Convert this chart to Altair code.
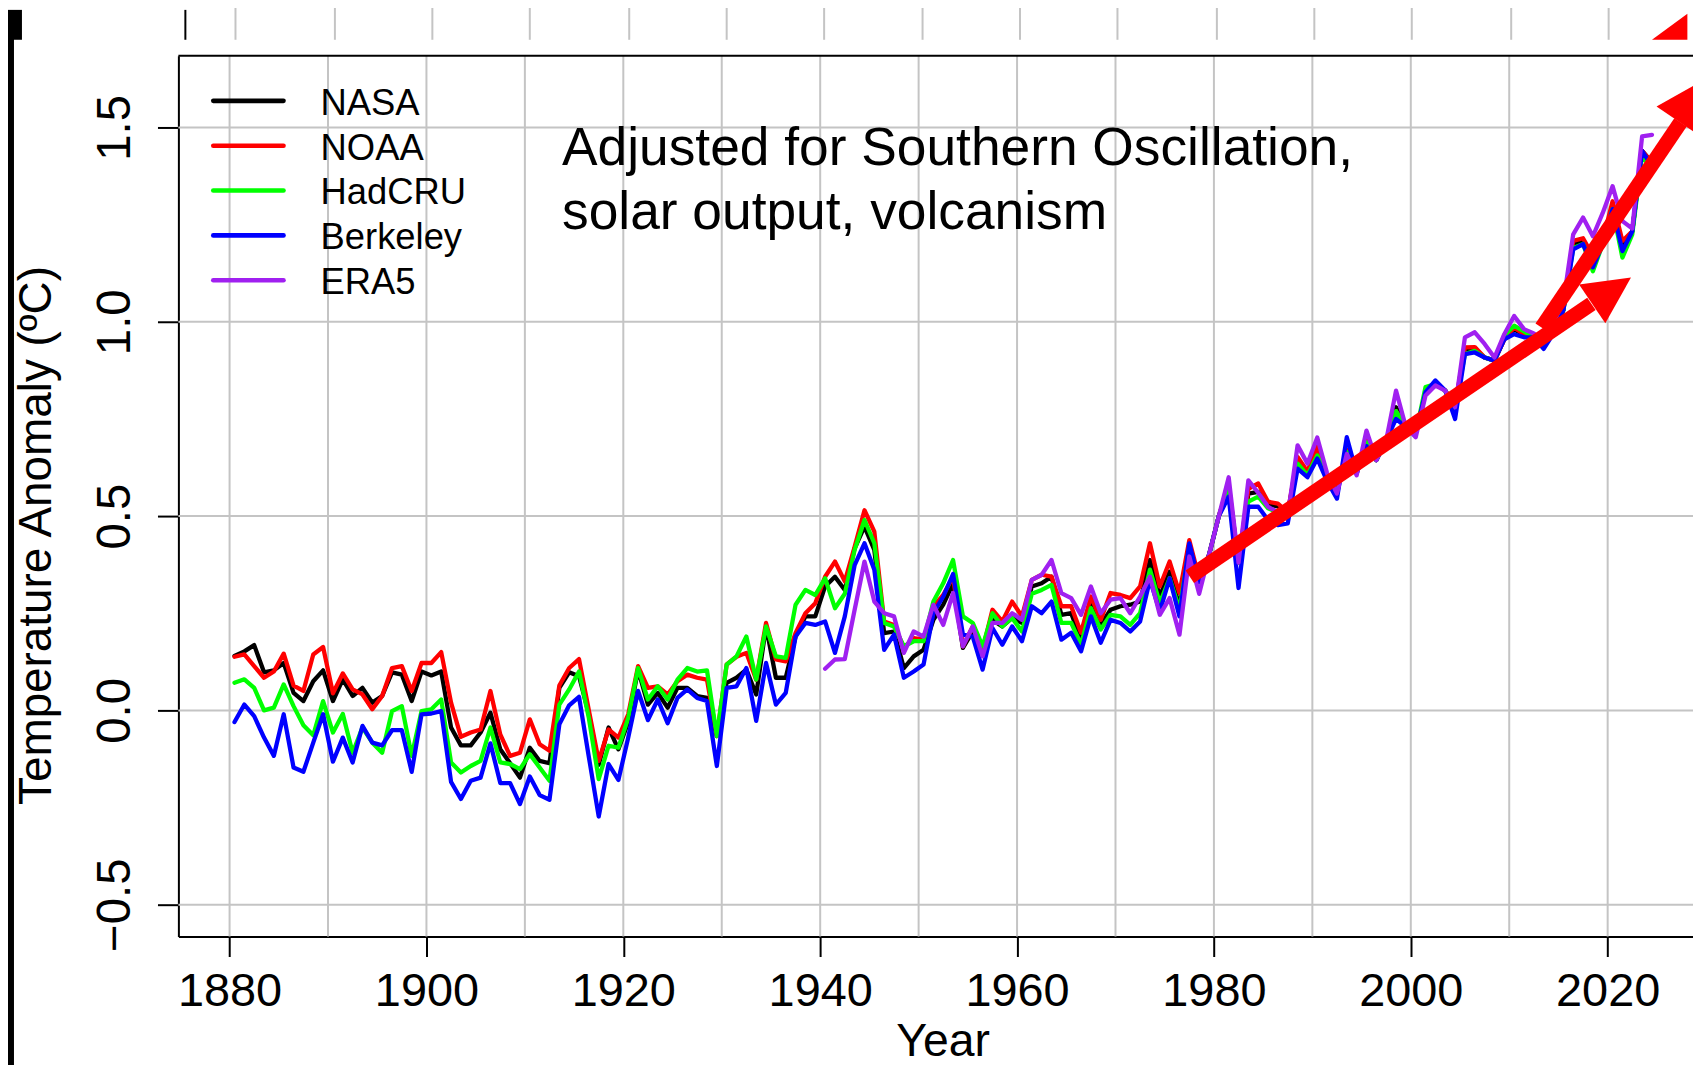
import altair as alt
import pandas as pd

FONT = "Liberation Sans"

# ---------------- data ----------------
years = list(range(1880, 2025))
nasa = [
    0.14, 0.152, 0.168, 0.098, 0.103, 0.122, 0.045, 0.024, 0.075, 0.103,
    0.024, 0.08, 0.037, 0.058, 0.02, 0.037, 0.098, 0.092, 0.024, 0.10,
    0.09, 0.10, -0.044, -0.09, -0.09, -0.057, -0.006, -0.10, -0.136, -0.173,
    -0.096, -0.13, -0.136, 0.058, 0.098, 0.088, -0.01, -0.14, -0.044, -0.10,
    -0.03, 0.105, 0.015, 0.045, 0.007, 0.058, 0.058, 0.037, 0.032, -0.066,
    0.071, 0.084, 0.105, 0.041, 0.216, 0.084, 0.084, 0.19, 0.242, 0.242,
    0.319, 0.344, 0.31, 0.417, 0.473, 0.413, 0.199, 0.203, 0.109, 0.139,
    0.156, 0.233, 0.272, 0.327, 0.161, 0.203, 0.144, 0.233, 0.216, 0.238,
    0.225, 0.319, 0.327, 0.344, 0.246, 0.25, 0.182, 0.285, 0.22, 0.259,
    0.268, 0.272, 0.28, 0.387, 0.293, 0.357, 0.268, 0.413, 0.33, 0.40,
    0.50, 0.575, 0.38, 0.558, 0.562, 0.53, 0.525, 0.507, 0.648, 0.61,
    0.665, 0.60, 0.562, 0.67, 0.615, 0.695, 0.644, 0.695, 0.78, 0.729,
    0.712, 0.819, 0.84, 0.823, 0.78, 0.93, 0.93, 0.908, 0.90, 0.955,
    0.98, 0.968, 0.96, 0.94, 0.97, 1.03, 1.20, 1.21, 1.15, 1.20,
    1.30, 1.19, 1.233, 1.44, 1.41,
]
noaa = [
    0.138, 0.144, 0.114, 0.084, 0.10, 0.146, 0.064, 0.05, 0.144, 0.163,
    0.044, 0.095, 0.054, 0.041, 0.003, 0.037, 0.109, 0.114, 0.05, 0.122,
    0.122, 0.15, 0.02, -0.068, -0.057, -0.049, 0.05, -0.062, -0.117, -0.109,
    -0.023, -0.087, -0.104, 0.064, 0.109, 0.132, 0.0, -0.13, -0.049, -0.07,
    -0.01, 0.114, 0.058, 0.062, 0.041, 0.075, 0.092, 0.084, 0.079, -0.066,
    0.118, 0.138, 0.148, 0.079, 0.225, 0.131, 0.126, 0.199, 0.25, 0.276,
    0.344, 0.383, 0.332, 0.421, 0.515, 0.46, 0.229, 0.22, 0.161, 0.186,
    0.182, 0.267, 0.297, 0.344, 0.165, 0.216, 0.156, 0.259, 0.229, 0.28,
    0.242, 0.336, 0.349, 0.344, 0.268, 0.268, 0.20, 0.293, 0.233, 0.302,
    0.297, 0.289, 0.319, 0.43, 0.319, 0.383, 0.302, 0.438, 0.34, 0.40,
    0.50, 0.58, 0.38, 0.57, 0.584, 0.537, 0.532, 0.51, 0.652, 0.615,
    0.678, 0.60, 0.562, 0.67, 0.61, 0.695, 0.644, 0.695, 0.77, 0.729,
    0.712, 0.819, 0.84, 0.823, 0.785, 0.934, 0.935, 0.908, 0.90, 0.955,
    0.985, 0.968, 0.96, 0.94, 0.975, 1.04, 1.208, 1.215, 1.17, 1.21,
    1.31, 1.208, 1.233, 1.44, 1.41,
]
hadcru = [
    0.071, 0.08, 0.058, 0.0, 0.007, 0.067, 0.011, -0.038, -0.064, 0.024,
    -0.057, -0.009, -0.109, -0.044, -0.083, -0.109, -0.002, 0.011, -0.117, -0.002,
    0.003, 0.028, -0.134, -0.16, -0.143, -0.13, -0.044, -0.134, -0.138, -0.151,
    -0.113, -0.147, -0.181, 0.015, 0.054, 0.10, -0.02, -0.177, -0.091, -0.096,
    -0.02, 0.109, 0.028, 0.062, 0.028, 0.079, 0.109, 0.10, 0.103, -0.066,
    0.118, 0.139, 0.19, 0.079, 0.216, 0.139, 0.135, 0.272, 0.31, 0.297,
    0.34, 0.263, 0.30, 0.413, 0.49, 0.43, 0.225, 0.216, 0.165, 0.178,
    0.178, 0.28, 0.327, 0.387, 0.242, 0.225, 0.165, 0.25, 0.216, 0.238,
    0.203, 0.30, 0.31, 0.323, 0.225, 0.225, 0.17, 0.263, 0.208, 0.246,
    0.242, 0.22, 0.25, 0.362, 0.276, 0.34, 0.259, 0.42, 0.33, 0.40,
    0.50, 0.565, 0.38, 0.537, 0.55, 0.52, 0.51, 0.50, 0.635, 0.605,
    0.656, 0.60, 0.56, 0.665, 0.61, 0.69, 0.644, 0.695, 0.77, 0.729,
    0.712, 0.832, 0.84, 0.823, 0.78, 0.917, 0.925, 0.908, 0.90, 0.965,
    0.99, 0.975, 0.96, 0.94, 0.97, 1.03, 1.19, 1.20, 1.13, 1.20,
    1.29, 1.165, 1.225, 1.43, 1.387,
]
berkeley = [
    -0.03, 0.015, -0.015, -0.07, -0.117, -0.01, -0.147, -0.158, -0.083, -0.01,
    -0.132, -0.07, -0.134, -0.04, -0.083, -0.09, -0.051, -0.051, -0.158, -0.01,
    -0.008, -0.002, -0.184, -0.228, -0.181, -0.173, -0.085, -0.187, -0.187, -0.241,
    -0.17, -0.218, -0.23, -0.036, 0.013, 0.035, -0.12, -0.273, -0.138, -0.179,
    -0.07, 0.05, -0.025, 0.028, -0.033, 0.032, 0.054, 0.032, 0.024, -0.143,
    0.058, 0.062, 0.109, -0.027, 0.122, 0.015, 0.045, 0.19, 0.225, 0.22,
    0.229, 0.148, 0.242, 0.374, 0.43, 0.362, 0.156, 0.195, 0.084, 0.10,
    0.118, 0.25, 0.293, 0.351, 0.195, 0.19, 0.105, 0.212, 0.169, 0.216,
    0.178, 0.268, 0.25, 0.28, 0.182, 0.20, 0.152, 0.242, 0.174, 0.233,
    0.225, 0.203, 0.229, 0.336, 0.255, 0.34, 0.242, 0.43, 0.33, 0.40,
    0.50, 0.55, 0.315, 0.524, 0.524, 0.49, 0.477, 0.481, 0.622, 0.60,
    0.648, 0.59, 0.545, 0.703, 0.61, 0.68, 0.644, 0.695, 0.75, 0.729,
    0.712, 0.819, 0.849, 0.823, 0.75, 0.917, 0.921, 0.908, 0.90, 0.955,
    0.968, 0.96, 0.96, 0.93, 0.97, 1.03, 1.186, 1.20, 1.14, 1.20,
    1.29, 1.182, 1.233, 1.44, 1.40,
]
era5_years = list(range(1940, 2025))
era5 = [
    0.107, 0.131, 0.132, 0.259, 0.383, 0.28, 0.25, 0.242, 0.148, 0.203,
    0.19, 0.272, 0.22, 0.302, 0.165, 0.216, 0.139, 0.225, 0.225, 0.25,
    0.233, 0.336, 0.349, 0.387, 0.302, 0.289, 0.246, 0.319, 0.25, 0.285,
    0.289, 0.25, 0.293, 0.344, 0.246, 0.289, 0.195, 0.396, 0.30, 0.40,
    0.50, 0.60, 0.38, 0.592, 0.56, 0.524, 0.51, 0.50, 0.682, 0.635,
    0.702, 0.61, 0.558, 0.66, 0.605, 0.72, 0.644, 0.695, 0.823, 0.729,
    0.703, 0.81, 0.836, 0.823, 0.78, 0.96, 0.973, 0.943, 0.908, 0.968,
    1.015, 0.981, 0.97, 0.95, 1.0, 1.05, 1.225, 1.268, 1.22, 1.28,
    1.349, 1.259, 1.24, 1.477, 1.481,
]

series_names = ["NASA", "NOAA", "HadCRU", "Berkeley", "ERA5"]
series_colors = ["#000000", "#ff0000", "#00ff00", "#0000ff", "#a020f0"]
series_years = [years, years, years, years, era5_years]
series_values = [nasa, noaa, hadcru, berkeley, era5]

x_tick_years = [1880, 1900, 1920, 1940, 1960, 1980, 2000, 2020]
y_tick_values = [-0.5, 0.0, 0.5, 1.0, 1.5]
grid_years = [1880, 1890, 1900, 1910, 1920, 1930, 1940, 1950, 1960, 1970,
              1980, 1990, 2000, 2010, 2020]
grid_values = [-0.5, 0.0, 0.5, 1.0, 1.5]

# strip of a second copy of the chart showing above the main one
top_strip_grid_years = [1880.6, 1890.7, 1900.6, 1910.5, 1920.6, 1930.5, 1940.4,
                        1950.4, 1960.3, 1970.2, 1980.3, 1990.2, 2000.1, 2010.2, 2020.1]
top_strip_top = 1.83
top_strip_bottom = 1.7256

# red trend arrows (drawn in data coordinates)
lower_arrow_year = [1977.55, 2018.35]
lower_arrow_temp = [0.344, 1.046]
lower_head_year = [2020.4]
lower_head_temp = [1.08]
upper_arrow_year = [2013.3, 2027.4]
upper_arrow_temp = [0.985, 1.513]
upper_head_year = [2028.9]
upper_head_temp = [1.573]
top_tip_year = [2024.5, 2028.1]
top_tip_upper = [1.7256, 1.7923]
top_tip_lower = [1.7256, 1.7256]

annotation_lines = ["Adjusted for Southern Oscillation,", "solar output, volcanism"]

# ---------------- scales & axes ----------------
X_SCALE = alt.Scale(domain=[1874.8, 2028.67], nice=False, zero=False)
Y_SCALE = alt.Scale(domain=[-0.582, 1.6846], nice=False, zero=False)

X_AXIS = alt.Axis(
    values=x_tick_years, format="d", grid=False, title="Year",
    domainColor="black", domainWidth=2, tickColor="black", tickWidth=2, tickSize=20,
    labelFont=FONT, labelFontSize=47, labelColor="black", labelPadding=49,
    labelBaseline="alphabetic", labelFlush=False, labelOverlap=False,
    titleFont=FONT, titleFontSize=46.5, titleFontWeight="normal", titleColor="black",
    titleX=767, titleY=119, titleBaseline="alphabetic", titleAlign="center",
)
Y_AXIS = alt.Axis(
    values=y_tick_values, format=".1f", grid=False, title="Temperature Anomaly (ºC)",
    domainColor="black", domainWidth=2, tickColor="black", tickWidth=2, tickSize=21,
    labelFont=FONT, labelFontSize=47.5, labelColor="black", labelAngle=270,
    labelAlign="center", labelBaseline="alphabetic", labelPadding=28,
    labelFlush=False, labelOverlap=False,
    titleFont=FONT, titleFontSize=46, titleFontWeight="normal", titleColor="black",
    titleAngle=270, titleX=-128, titleY=481, titleBaseline="alphabetic", titleAlign="center",
)


def X(field):
    return alt.X(f"{field}:Q", scale=X_SCALE, axis=X_AXIS)


def Y(field):
    return alt.Y(f"{field}:Q", scale=Y_SCALE, axis=Y_AXIS)


one = pd.DataFrame({"k": [0]})
GRID = "#c4c4c4"
layers = []

# grid
layers.append(alt.Chart(pd.DataFrame({"gx": grid_years}))
              .mark_rule(color=GRID, strokeWidth=2).encode(x=X("gx")))
layers.append(alt.Chart(pd.DataFrame({"gy": grid_values}))
              .mark_rule(color=GRID, strokeWidth=2).encode(y=Y("gy")))
# top frame line
layers.append(alt.Chart(one).mark_rule(color="black", strokeWidth=2)
              .encode(x=alt.value(0), x2=alt.value(1520), y=alt.value(0)))

# top strip (piece of another copy of the chart)
strip = pd.DataFrame({
    "tx": top_strip_grid_years,
    "ty": [top_strip_top] * len(top_strip_grid_years),
    "ty2": [top_strip_bottom] * len(top_strip_grid_years),
})
layers.append(alt.Chart(strip).mark_rule(color=GRID, strokeWidth=2)
              .encode(x=X("tx"), y=Y("ty"), y2="ty2:Q"))
layers.append(alt.Chart(one).mark_rule(color="black", strokeWidth=2)
              .encode(x=alt.value(7), y=alt.value(-46), y2=alt.value(-16)))
layers.append(alt.Chart(pd.DataFrame({"rx": top_tip_year, "ry": top_tip_upper, "ry2": top_tip_lower}))
              .mark_area(color="#ff0000", opacity=1)
              .encode(x=X("rx"), y=Y("ry"), y2="ry2:Q"))
# black borders of the collage
layers.append(alt.Chart(one).mark_rect(color="black")
              .encode(x=alt.value(-171), x2=alt.value(-165), y=alt.value(-46), y2=alt.value(1013)))
layers.append(alt.Chart(one).mark_rect(color="black")
              .encode(x=alt.value(-171), x2=alt.value(-157), y=alt.value(-46), y2=alt.value(-16)))

# data lines
for name, col, yrs, vals in zip(series_names, series_colors, series_years, series_values):
    df = pd.DataFrame({"year": yrs, "anomaly": vals})
    layers.append(
        alt.Chart(df)
        .transform_calculate(mid="datum.year + 0.5")
        .mark_line(color=col, strokeWidth=4.3, strokeJoin="round", strokeCap="round")
        .encode(x=X("mid"), y=Y("anomaly"))
    )

# red arrows
TRI = "M0,-1L1,1L-1,1Z"
layers.append(alt.Chart(pd.DataFrame({"ax": lower_arrow_year, "ay": lower_arrow_temp}))
              .mark_line(color="#ff0000", strokeWidth=15, strokeCap="butt")
              .encode(x=X("ax"), y=Y("ay")))
layers.append(alt.Chart(pd.DataFrame({"ax": upper_arrow_year, "ay": upper_arrow_temp}))
              .mark_line(color="#ff0000", strokeWidth=15, strokeCap="butt")
              .encode(x=X("ax"), y=Y("ay")))
layers.append(alt.Chart(pd.DataFrame({"hx": lower_head_year, "hy": lower_head_temp}))
              .mark_point(shape=TRI, filled=True, color="#ff0000", opacity=1,
                          size=2209, angle=55.9, strokeWidth=0)
              .encode(x=X("hx"), y=Y("hy")))
layers.append(alt.Chart(pd.DataFrame({"hx": upper_head_year, "hy": upper_head_temp}))
              .mark_point(shape=TRI, filled=True, color="#ff0000", opacity=1,
                          size=3136, angle=34, strokeWidth=0)
              .encode(x=X("hx"), y=Y("hy")))

# legend (no box, as in R)
for i, (name, col) in enumerate(zip(series_names, series_colors)):
    layers.append(alt.Chart(one).mark_rule(color=col, strokeWidth=4.6, strokeCap="round")
                  .encode(x=alt.value(35), x2=alt.value(105.5), y=alt.value(45.3 + 45 * i)))
    layers.append(alt.Chart(pd.DataFrame({"series": [name]}))
                  .mark_text(font=FONT, fontSize=36.5, color="black", align="left",
                             baseline="alphabetic")
                  .encode(text="series:N", x=alt.value(142.7), y=alt.value(59.3 + 45 * i)))

# annotation
for j, line in enumerate(annotation_lines):
    layers.append(alt.Chart(pd.DataFrame({"t": [line]}))
                  .mark_text(font=FONT, fontSize=53.5, color="black", align="left",
                             baseline="alphabetic")
                  .encode(text="t:N", x=alt.value(385), y=alt.value(110 + 64 * j)))

chart = (
    alt.layer(*layers)
    .properties(
        width=1520, height=884,
        padding={"left": 171, "top": 46, "right": 0, "bottom": 129},
        autosize=alt.AutoSizeParams(type="none"),
    )
    .configure(font=FONT, background="white")
    .configure_view(strokeWidth=0)
)

chart.save("out.html", embed_options={"renderer": "svg", "actions": False})
